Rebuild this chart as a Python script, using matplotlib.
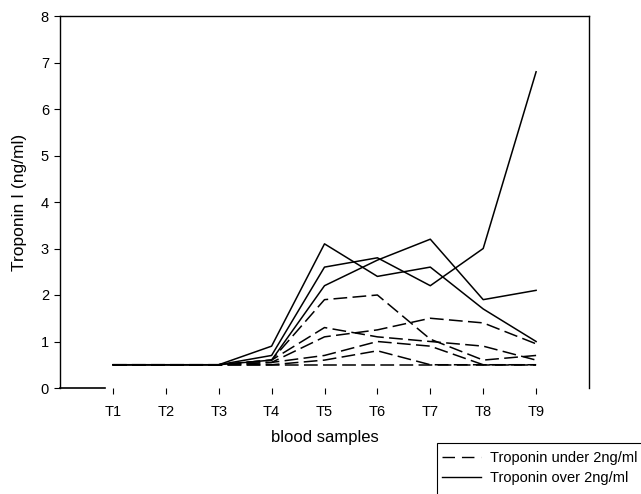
import matplotlib
matplotlib.use("Agg")
import matplotlib.pyplot as plt
from matplotlib.lines import Line2D
from matplotlib.patches import Rectangle

plt.rcParams['font.family'] = ['Liberation Sans', 'DejaVu Sans']

samples = ["T1", "T2", "T3", "T4", "T5", "T6", "T7", "T8", "T9"]

# Troponin under 2 ng/ml (dashed)
under_1 = [0.5, 0.5, 0.5, 0.6, 1.9, 2.0, 1.05, 0.6, 0.7]
under_2 = [0.5, 0.5, 0.5, 0.55, 1.1, 1.25, 1.5, 1.4, 0.95]
under_3 = [0.5, 0.5, 0.5, 0.6, 1.3, 1.1, 1.0, 0.9, 0.6]
under_4 = [0.5, 0.5, 0.5, 0.55, 0.7, 1.0, 0.9, 0.5, 0.5]
under_5 = [0.5, 0.5, 0.5, 0.5, 0.6, 0.8, 0.5, 0.5, 0.5]
under_6 = [0.5, 0.5, 0.5, 0.5, 0.5, 0.5, 0.5, 0.5, 0.5]

# Troponin over 2 ng/ml (solid)
over_1 = [0.5, 0.5, 0.5, 0.9, 3.1, 2.4, 2.6, 1.7, 1.0]
over_2 = [0.5, 0.5, 0.5, 0.7, 2.6, 2.8, 2.2, 3.0, 6.8]
over_3 = [0.5, 0.5, 0.5, 0.6, 2.2, 2.75, 3.2, 1.9, 2.1]

under_series = [under_1, under_2, under_3, under_4, under_5, under_6]
over_series = [over_1, over_2, over_3]

W, H = 641, 494
fig = plt.figure(figsize=(W / 100, H / 100), dpi=100)
ax = fig.add_axes([60 / W, 1 - 388 / H, (589 - 60) / W, (388 - 16) / H])

x = list(range(1, len(samples) + 1))
dash = (0, (9, 3.5))
for s in under_series:
    ax.plot(x, s, color='black', lw=1.1, linestyle=dash)
for s in over_series:
    ax.plot(x, s, color='black', lw=1.1)

ax.set_xlim(0, 10)
ax.set_ylim(0, 8)
ax.set_xticks(x)
ax.set_xticklabels(samples)
ax.set_yticks(range(0, 9))
ax.tick_params(axis='x', direction='out', length=4, width=0.8, pad=8, labelsize=10.5)
ax.tick_params(axis='y', direction='out', length=4, width=0.8, pad=4, labelsize=10.5)
ax.spines['bottom'].set_visible(False)
for sp in ['left', 'right', 'top']:
    ax.spines[sp].set_linewidth(1.0)
ax.plot([0, 0.85], [0, 0], color='black', lw=1.2, clip_on=False)

ax.set_xlabel("blood samples", fontsize=12, labelpad=8)
ax.set_ylabel("Troponin I (ng/ml)", fontsize=12.5, labelpad=10)

# legend box
fig.patches.append(Rectangle((437 / W, -0.05), 0.5, (1 - 443 / H) + 0.05,
                             transform=fig.transFigure, fill=False,
                             edgecolor='black', lw=0.8))
handles = [Line2D([], [], color='black', lw=1.0, linestyle=(0, (9, 5))),
           Line2D([], [], color='black', lw=1.0)]
fig.legend(handles, ["Troponin under 2ng/ml", "Troponin over 2ng/ml"],
           loc='upper left', bbox_to_anchor=(442 / W, 1 - 451 / H),
           frameon=False, fontsize=10.5, handlelength=2.7, handletextpad=0.6,
           labelspacing=0.4, borderaxespad=0, borderpad=0)

fig.savefig("out.png", dpi=100)
